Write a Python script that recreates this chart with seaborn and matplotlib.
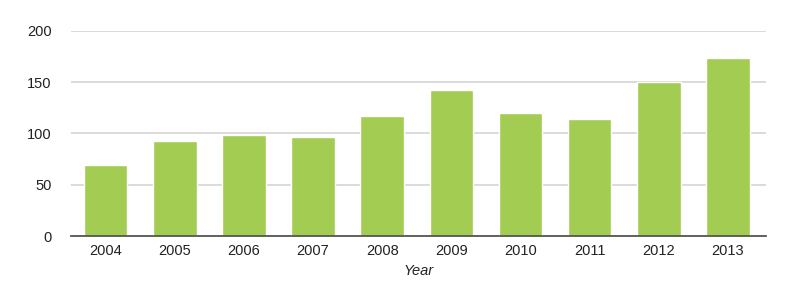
import matplotlib
matplotlib.use("Agg")
import matplotlib.pyplot as plt
import seaborn as sns
import pandas as pd

years = ["2004", "2005", "2006", "2007", "2008", "2009", "2010", "2011", "2012", "2013"]
values = [69, 93, 99, 96.5, 117.5, 142.5, 119.5, 114, 150.5, 174]
yticks = [0, 50, 100, 150, 200]

sns.set_theme(style="white")
plt.rcParams['font.family'] = ['Liberation Sans', 'DejaVu Sans']

df = pd.DataFrame({"Year": years, "Value": values})

fig = plt.figure(figsize=(8.1, 2.84), dpi=100)
ax = fig.add_axes([0.0877, 0.169, 0.858, 0.722])
sns.barplot(data=df, x="Year", y="Value", color="#a3cc52", saturation=1, width=0.63, ax=ax, zorder=3)
ax.set_ylim(0, 200)
ax.set_xlim(-0.5, 9.55)
ax.set_yticks(yticks)
ax.yaxis.grid(True, color="#d4d4d4", linewidth=1.2, zorder=0)
ax.set_axisbelow(True)
for s in ["top", "right", "left"]:
    ax.spines[s].set_visible(False)
ax.spines["bottom"].set_color("#555555")
ax.spines["bottom"].set_linewidth(1.3)
ax.spines["bottom"].set_zorder(5)
ax.tick_params(axis="both", length=0, labelsize=10.5, colors="#222222", pad=6)
ax.tick_params(axis="y", pad=14)
ax.set_ylabel("")
ax.set_xlabel("Year", fontsize=10.5, style="italic", color="#222222", labelpad=4)
fig.savefig("out.png", dpi=100)
